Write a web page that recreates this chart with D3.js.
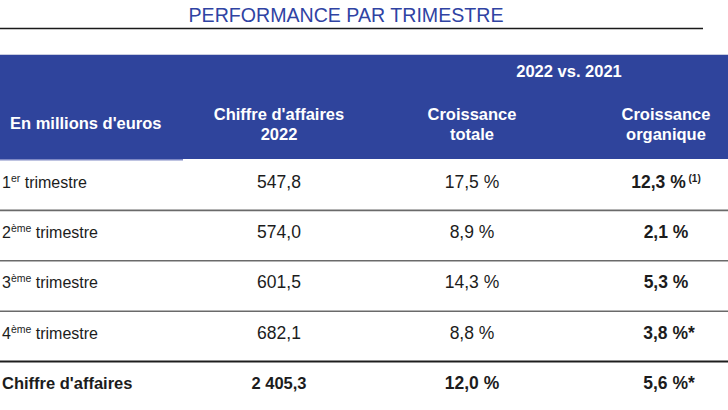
<!DOCTYPE html>
<html>
<head>
<meta charset="utf-8">
<script src="https://cdn.jsdelivr.net/npm/d3@7"></script>
<style>
  html, body { margin: 0; padding: 0; background: #fff; }
  svg { display: block; font-family: "Liberation Sans", Arial, Helvetica, sans-serif; }
</style>
</head>
<body>
<script>
// ---- data ----
const title = "PERFORMANCE PAR TRIMESTRE";
const rowNums = ["1", "2", "3", "4"];
const rowSups = ["er", "ème", "ème", "ème"];
const rowWord = "trimestre";
const totalLabel = "Chiffre d'affaires";
const revenue2022 = [547.8, 574.0, 601.5, 682.1];
const revenueTotal = 2405.3;
const totalGrowth = [17.5, 8.9, 14.3, 8.8];
const totalGrowthAll = 12.0;
const organicGrowth = [12.3, 2.1, 5.3, 3.8];
const organicGrowthAll = 5.6;
const organicSupNotes = ["(1)", "", "", ""];
const organicStar = ["", "", "", "*"];
const organicStarAll = "*";
const headerGroup = "2022 vs. 2021";
const headerCols = [
  ["En millions d'euros"],
  ["Chiffre d'affaires", "2022"],
  ["Croissance", "totale"],
  ["Croissance", "organique"]
];

// ---- setup ----
const W = 728, H = 410;
const fr = d3.formatLocale({decimal: ",", thousands: "\u00a0", grouping: [3], currency: ["", " €"]});
const fNum = fr.format(",.1f");
const fPct = v => fr.format(".1f")(v) + " %";

const blue = "#2f449c";
const txt = "#1c1c1c";

const svg = d3.select("body").append("svg").attr("width", W).attr("height", H);

// title
svg.append("text").attr("x", 346).attr("y", 22).attr("text-anchor", "middle")
  .attr("font-size", 19.6).attr("fill", "#2f43a3").text(title);
svg.append("line").attr("x1", 0).attr("x2", 703).attr("y1", 28.5).attr("y2", 28.5)
  .attr("stroke", "#1a1a1a").attr("stroke-width", 1.6);

// header
svg.append("rect").attr("x", 0).attr("y", 54).attr("width", W).attr("height", 1).attr("fill", "#c9cde0");
svg.append("rect").attr("x", 0).attr("y", 55).attr("width", W).attr("height", 104).attr("fill", blue);
svg.append("rect").attr("x", 0).attr("y", 159).attr("width", 183).attr("height", 1.5).attr("fill", "#7e88c4");

const colX = [10, 279, 472, 666];
const colAnchor = ["start", "middle", "middle", "middle"];

svg.append("text").attr("x", 569).attr("y", 77).attr("text-anchor", "middle")
  .attr("font-size", 16.5).attr("font-weight", "bold").attr("fill", "#fff").text(headerGroup);

headerCols.forEach((lines, i) => {
  const t = svg.append("text").attr("text-anchor", colAnchor[i])
    .attr("font-size", 16.5).attr("font-weight", "bold").attr("fill", "#fff");
  if (lines.length === 1) {
    t.append("tspan").attr("x", colX[i]).attr("y", 129).text(lines[0]);
  } else {
    lines.forEach((l, j) => t.append("tspan").attr("x", colX[i]).attr("y", 120 + j * 20).text(l));
  }
});

// rows
const rowKeys = rowNums.concat(["total"]);
const y = d3.scaleBand().domain(rowKeys).range([160, 412]).paddingInner(0).paddingOuter(0);
const base = 27.5;

// separators
rowKeys.slice(0, 4).forEach((k, i) => {
  const yy = y(k) + y.bandwidth();
  svg.append("line").attr("x1", 0).attr("x2", W).attr("y1", yy).attr("y2", yy)
    .attr("stroke", i === 3 ? "#1e1e1e" : "#6a6a6a").attr("stroke-width", i === 3 ? 2 : 1.6);
});

const rows = svg.append("g");
rowNums.forEach((n, i) => {
  const yb = y(n) + base;
  const lab = rows.append("text").attr("x", 2).attr("y", yb).attr("font-size", 16).attr("fill", txt);
  lab.append("tspan").text(n);
  lab.append("tspan").attr("font-size", 10.5).attr("dy", -6).text(rowSups[i]);
  lab.append("tspan").attr("dy", 6).text(" " + rowWord);

  rows.append("text").attr("x", colX[1]).attr("y", yb).attr("text-anchor", "middle")
    .attr("font-size", 17.5).attr("fill", txt).text(fNum(revenue2022[i]));
  rows.append("text").attr("x", colX[2]).attr("y", yb).attr("text-anchor", "middle")
    .attr("font-size", 17.5).attr("fill", txt).text(fPct(totalGrowth[i]));

  const og = rows.append("text").attr("x", colX[3] + (organicStar[i] ? 3 : 0)).attr("y", yb).attr("text-anchor", "middle")
    .attr("font-size", 17.5).attr("font-weight", "bold").attr("fill", txt);
  og.append("tspan").text(fPct(organicGrowth[i]) + organicStar[i]);
  if (organicSupNotes[i]) {
    og.append("tspan").attr("font-size", 10).attr("dy", -6).text("\u00a0" + organicSupNotes[i]);
  }
});

// total row
const yt = y("total") + base;
rows.append("text").attr("x", 2).attr("y", yt).attr("font-size", 16.5).attr("font-weight", "bold")
  .attr("fill", txt).text(totalLabel);
rows.append("text").attr("x", colX[1]).attr("y", yt).attr("text-anchor", "middle")
  .attr("font-size", 16.5).attr("font-weight", "bold").attr("fill", txt).text(fNum(revenueTotal));
rows.append("text").attr("x", colX[2]).attr("y", yt).attr("text-anchor", "middle")
  .attr("font-size", 17.5).attr("font-weight", "bold").attr("fill", txt).text(fPct(totalGrowthAll));
rows.append("text").attr("x", colX[3] + 3).attr("y", yt).attr("text-anchor", "middle")
  .attr("font-size", 17.5).attr("font-weight", "bold").attr("fill", txt).text(fPct(organicGrowthAll) + organicStarAll);
</script>
</body>
</html>
